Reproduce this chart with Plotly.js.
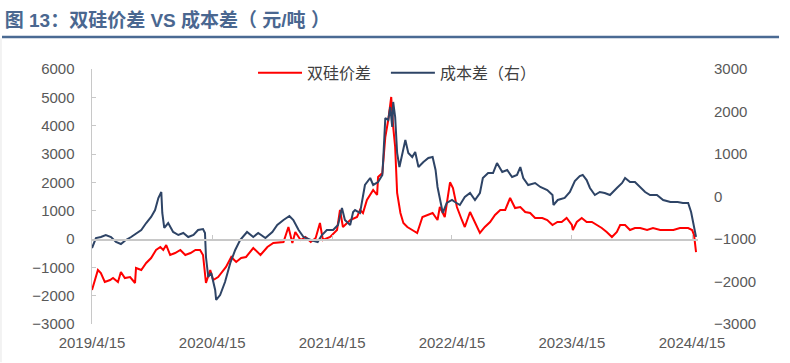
<!DOCTYPE html>
<html><head><meta charset="utf-8">
<script src="https://cdn.plot.ly/plotly-3.0.1.min.js"></script>
<style>html,body{margin:0;padding:0;background:#fff;}#chart{width:790px;height:363px;}</style>
</head><body><div id="chart"></div>
<script>
const redName = '双硅价差';
const blueName = '成本差（右）';
const xTicks = ['2019-04-15','2020-04-15','2021-04-15','2022-04-15','2023-04-15','2024-04-15'];
const xTickText = ['2019/4/15','2020/4/15','2021/4/15','2022/4/15','2023/4/15','2024/4/15'];
const leftTicks = [-3000,-2000,-1000,0,1000,2000,3000,4000,5000,6000];
const rightTicks = [-3000,-2000,-1000,0,1000,2000,3000];

const redDates = ['2019-04-15','2019-04-24','2019-05-03','2019-05-12','2019-05-24','2019-06-09','2019-06-18','2019-07-03','2019-07-12','2019-07-24','2019-08-09','2019-08-24','2019-08-27','2019-09-12','2019-09-27','2019-10-12','2019-10-27','2019-11-09','2019-11-18','2019-11-27','2019-12-09','2019-12-24','2020-01-09','2020-01-24','2020-02-09','2020-02-24','2020-03-09','2020-03-18','2020-03-24','2020-03-27','2020-04-09','2020-04-18','2020-05-03','2020-05-12','2020-05-27','2020-06-12','2020-06-27','2020-07-12','2020-07-27','2020-08-18','2020-09-09','2020-09-30','2020-10-18','2020-11-18','2020-12-03','2020-12-15','2020-12-24','2021-01-09','2021-01-24','2021-02-09','2021-02-24','2021-03-09','2021-03-18','2021-04-09','2021-04-30','2021-05-09','2021-05-18','2021-06-09','2021-06-30','2021-07-09','2021-07-18','2021-07-30','2021-08-18','2021-08-30','2021-09-02','2021-09-15','2021-09-24','2021-10-03','2021-10-12','2021-10-18','2021-10-24','2021-10-30','2021-11-09','2021-11-18','2021-11-30','2021-12-15','2021-12-30','2022-01-15','2022-01-30','2022-02-15','2022-03-02','2022-03-09','2022-03-24','2022-04-09','2022-04-18','2022-04-30','2022-05-15','2022-05-24','2022-06-09','2022-06-24','2022-07-09','2022-07-24','2022-08-09','2022-08-24','2022-09-09','2022-09-24','2022-10-09','2022-10-24','2022-11-09','2022-11-24','2022-12-09','2022-12-24','2023-01-15','2023-01-30','2023-02-15','2023-03-02','2023-03-15','2023-03-30','2023-04-15','2023-04-18','2023-04-30','2023-05-15','2023-05-30','2023-06-15','2023-06-30','2023-07-15','2023-07-30','2023-08-15','2023-08-30','2023-09-09','2023-09-24','2023-10-09','2023-10-24','2023-11-09','2023-11-30','2023-12-18','2024-01-09','2024-01-30','2024-02-18','2024-03-09','2024-04-03','2024-04-15','2024-04-21','2024-04-27'];
const redValues = [-1800,-1447,-1094,-1200,-1518,-1447,-1377,-1518,-1165,-1377,-1341,-1553,-1024,-1094,-847,-671,-388,-282,-388,-212,-565,-494,-388,-565,-494,-388,-388,-565,-1094,-1553,-1094,-1447,-1341,-1200,-988,-635,-812,-671,-635,-318,-565,-282,-141,-106,424,-141,247,-35,71,-106,35,565,-35,71,318,1024,424,671,777,1024,918,1377,1730,1553,2189,2330,3601,4201,5013,3954,3248,1624,918,565,424,318,212,777,847,918,671,1130,777,2000,1800,1130,671,424,953,600,212,424,600,847,1024,1024,1447,1094,1130,953,918,741,741,671,494,600,600,741,494,318,600,741,600,600,494,388,247,71,247,494,494,318,388,388,318,388,318,318,318,388,388,318,141,-459];

const blueDates = ['2019-04-15','2019-04-27','2019-05-12','2019-05-27','2019-06-12','2019-06-27','2019-07-12','2019-07-27','2019-08-12','2019-08-27','2019-09-12','2019-09-27','2019-10-12','2019-10-24','2019-11-03','2019-11-12','2019-11-15','2019-11-21','2019-12-03','2019-12-18','2020-01-03','2020-01-18','2020-02-02','2020-02-18','2020-03-03','2020-03-18','2020-03-24','2020-03-27','2020-04-03','2020-04-12','2020-04-24','2020-04-27','2020-05-09','2020-05-24','2020-06-09','2020-06-24','2020-07-09','2020-07-30','2020-08-18','2020-09-02','2020-09-24','2020-10-15','2020-10-30','2020-11-18','2020-12-06','2020-12-18','2021-01-03','2021-01-18','2021-02-09','2021-03-02','2021-03-15','2021-03-30','2021-04-18','2021-05-03','2021-05-15','2021-05-24','2021-06-09','2021-06-18','2021-06-24','2021-07-09','2021-07-24','2021-08-09','2021-08-18','2021-09-02','2021-09-15','2021-09-18','2021-09-24','2021-10-03','2021-10-09','2021-10-15','2021-10-18','2021-10-24','2021-10-30','2021-11-06','2021-11-15','2021-11-24','2021-12-03','2021-12-15','2021-12-24','2022-01-03','2022-01-18','2022-02-02','2022-02-15','2022-02-24','2022-03-02','2022-03-09','2022-03-18','2022-03-30','2022-04-15','2022-04-24','2022-05-09','2022-05-24','2022-06-09','2022-06-24','2022-07-09','2022-07-18','2022-08-03','2022-08-18','2022-08-30','2022-09-15','2022-09-30','2022-10-15','2022-10-30','2022-11-09','2022-11-18','2022-12-03','2022-12-24','2023-01-09','2023-01-30','2023-02-15','2023-02-18','2023-03-03','2023-03-24','2023-04-09','2023-04-24','2023-05-09','2023-05-18','2023-05-30','2023-06-09','2023-06-24','2023-07-09','2023-07-24','2023-08-09','2023-08-30','2023-09-15','2023-09-24','2023-10-09','2023-10-24','2023-11-09','2023-11-24','2023-12-09','2023-12-30','2024-01-18','2024-02-09','2024-03-02','2024-03-18','2024-04-03','2024-04-12','2024-04-18','2024-04-27'];
const blueValues = [-1212,-977,-953,-906,-953,-1071,-1118,-1024,-953,-882,-788,-624,-482,-318,-35,106,-388,-741,-624,-835,-906,-859,-953,-906,-788,-765,-859,-1424,-1894,-1800,-2200,-2435,-2318,-2012,-1565,-1259,-1024,-835,-953,-859,-977,-835,-671,-553,-459,-553,-788,-953,-1024,-1071,-906,-788,-788,-671,-271,-553,-671,-365,-318,-388,271,435,271,341,506,929,1847,1800,2106,1635,2224,1871,1024,694,1024,1329,1024,929,1047,694,812,906,929,624,224,-12,-388,-153,-82,-129,-200,-12,82,-82,82,435,553,553,788,576,624,459,506,694,435,271,318,224,153,35,-200,-82,-35,106,365,482,506,388,200,35,106,82,35,200,318,435,341,341,224,106,35,35,-82,-129,-129,-153,-153,-365,-600,-950];

const tickFont = {family: 'Liberation Sans, Arial, sans-serif', size: 15, color: '#595959'};
const legendFont = {family: 'Noto Sans CJK SC, sans-serif', size: 16, color: '#404040'};

const traces = [
  {x: redDates, y: redValues, name: redName, type: 'scatter', mode: 'lines', legend: 'legend',
   line: {color: '#ff0000', width: 2}, xaxis: 'x', yaxis: 'y'},
  {x: blueDates, y: blueValues, name: blueName, type: 'scatter', mode: 'lines', legend: 'legend2',
   line: {color: '#2e4466', width: 2}, xaxis: 'x', yaxis: 'y2'},
  {x: [xTicks[0]], y: [0], xaxis: 'x2', yaxis: 'y', mode: 'none', showlegend: false, hoverinfo: 'skip'}
];

const layout = {
  width: 790, height: 363,
  margin: {l: 92, r: 92, t: 69, b: 39, pad: 0},
  paper_bgcolor: '#ffffff', plot_bgcolor: '#ffffff',
  title: {text: '<b>图 13：双硅价差 VS 成本差（ 元/吨 ）</b>', xref: 'container', yref: 'container',
          x: 0.006, xanchor: 'left', y: 0.943, yanchor: 'middle',
          font: {family: 'Liberation Sans, Noto Sans CJK SC, sans-serif', size: 19, color: '#4a6790'}},
  showlegend: true,
  legend: {orientation: 'h', x: 0.2657, xanchor: 'left', y: 0.985, yanchor: 'middle',
           font: legendFont, bgcolor: 'rgba(0,0,0,0)', itemwidth: 44},
  legend2: {orientation: 'h', x: 0.485, xanchor: 'left', y: 0.985, yanchor: 'middle',
           font: legendFont, bgcolor: 'rgba(0,0,0,0)', itemwidth: 44},
  xaxis: {type: 'date', range: ['2019-04-15', '2024-05-03'], tickmode: 'array',
          tickvals: xTicks, ticktext: xTickText, showgrid: false, zeroline: false, showline: false,
          ticks: '', tickfont: tickFont, ticklabelstandoff: 8, fixedrange: true},
  xaxis2: {type: 'date', range: ['2019-04-15', '2024-05-03'], overlaying: 'x', anchor: 'free', position: 1/3,
           tickmode: 'array', tickvals: xTicks, showticklabels: false, showgrid: false, zeroline: false,
           showline: true, linecolor: '#c8c8c8', linewidth: 1.5, ticks: 'inside', ticklen: 4, tickcolor: '#c8c8c8'},
  yaxis: {range: [-3000, 6000], tickmode: 'array', tickvals: leftTicks, showgrid: false, zeroline: false,
          showline: true, linecolor: '#c8c8c8', linewidth: 1.5, ticks: 'inside', ticklen: 4, tickcolor: '#c8c8c8',
          tickfont: tickFont, ticklabelstandoff: 13},
  yaxis2: {range: [-3000, 3000], tickmode: 'array', tickvals: rightTicks, overlaying: 'y', side: 'right',
           showgrid: false, zeroline: false, showline: false, ticks: '', tickfont: tickFont, ticklabelstandoff: 15},
  shapes: [
    {type: 'line', xref: 'paper', yref: 'paper', x0: -0.1485, x1: 1.1337, y0: 1.1255, y1: 1.1255,
     line: {color: '#4a6a93', width: 2.5}},
    {type: 'line', xref: 'paper', yref: 'paper', x0: -0.1502, x1: -0.1502, y0: -0.15, y1: 1.12,
     line: {color: '#e6e6e6', width: 1}}
  ]
};

Plotly.newPlot('chart', traces, layout, {displayModeBar: false, staticPlot: true});
</script></body></html>
